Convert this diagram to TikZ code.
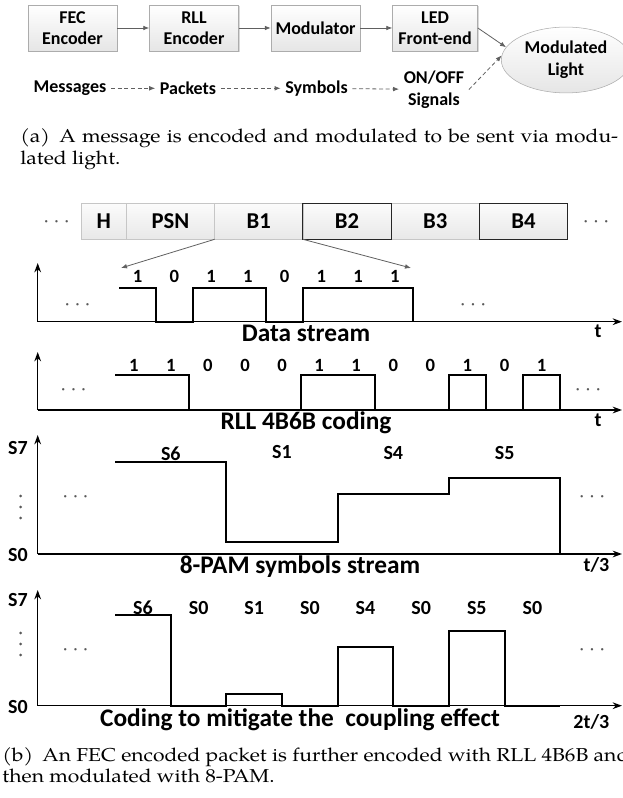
\documentclass[tikz,border=0pt]{standalone}
\usepackage{fontspec}
\setmainfont{Carlito}
\newfontfamily\capfont{TeX Gyre Pagella}[FakeStretch=1.13]
\usetikzlibrary{positioning,arrows.meta,shapes.geometric,shadows}
\tikzset{
  blk/.style={draw=gray!65, top color=white, bottom color=gray!20, align=center,
              font=\fontsize{13.5}{16}\selectfont\bfseries, minimum width=66.75pt,
              minimum height=34.5pt, inner sep=2pt,
              drop shadow={shadow xshift=1pt, shadow yshift=-1pt, fill=gray!50, opacity=0.6}},
  lbl/.style={font=\fontsize{13.5}{16.5}\selectfont\bfseries, align=center},
  flow/.style={-{Latex[length=4.5pt,width=3.5pt]}, draw=gray!75!black, line width=0.6pt},
  dflow/.style={flow, dash pattern=on 3pt off 2pt},
  pkt/.style={draw=gray!45, top color=gray!3, bottom color=gray!18, minimum height=27pt,
              minimum width=66.2pt, outer sep=0pt, inner sep=0pt,
              font=\fontsize{17}{19}\selectfont\bfseries},
  axline/.style={-{Stealth[length=7pt,width=5pt]}, line width=1.1pt},
  wave/.style={line width=1.5pt},
  bit/.style={font=\fontsize{14}{16}\selectfont\bfseries},
  lvl/.style={font=\fontsize{15}{17}\selectfont\bfseries},
  ttl/.style={font=\fontsize{19}{21}\selectfont\bfseries, anchor=base},
  tlab/.style={font=\fontsize{15}{17}\selectfont\bfseries, anchor=base},
  ellip/.style={text=gray!70!black, font=\fontsize{19}{20}\selectfont},
  vdot/.style={fill=gray!70!black},
  captxt/.style={font=\capfont\fontsize{14}{17}\selectfont, anchor=base west, inner sep=0pt},
}

\begin{document}
\begin{tikzpicture}[x=0.75pt, y=-0.75pt]
\useasboundingbox (0,0) rectangle (623,798);

% (a) transmitter chain
\node[blk] (fec) at (72.5,28) {FEC\\Encoder};
\node[blk, right=24pt of fec] (rll) {RLL\\Encoder};
\node[blk, right=24pt of rll] (mod) {Modulator};
\node[blk, right=24pt of mod, minimum width=63.75pt] (led) {LED\\Front-end};
\node[ellipse, draw=gray!65, top color=white, bottom color=gray!20, lbl,
      minimum width=84pt, minimum height=43.5pt] (light) at (566,60) {Modulated\\Light};
\draw[flow] (fec) -- (rll);
\draw[flow] (rll) -- (mod);
\draw[flow] (mod) -- (led);
\draw[flow] (led.east) -- (light.168);

\node[lbl] (msg) at (70,88.3) {Messages};
\node[lbl] (pkts) at (188,88.3) {Packets};
\node[lbl] (sym) at (316.5,88.3) {Symbols};
\node[lbl] (onoff) at (434,89.5) {ON/OFF\\Signals};
\draw[dflow] (msg) -- (pkts);
\draw[dflow] (pkts) -- (sym);
\draw[dflow] (sym) -- (onoff);
\draw[dflow] (onoff.east) -- (light.176);

\node[captxt] (capa1) at (20,143) {\makebox[448.5pt][s]{(a)\enskip A message is encoded and modulated to be sent via modu-}};
\node[captxt] (capa2) at (20,165) {lated light.};

% (b) packet
\node[ellip] (pl) at (56.6,222) {$\cdots$};
\node[pkt, minimum width=33.75pt] (h) at (103.85,221.3) {H};
\node[pkt, right=0pt of h] (psn) {PSN};
\node[pkt, right=0pt of psn] (b1) {B1};
\node[pkt, right=0pt of b1] (b2) {B2};
\node[pkt, right=0pt of b2] (b3) {B3};
\node[pkt, right=0pt of b3] (b4) {B4};
\node[ellip] (pr) at (596,222) {$\cdots$};
\draw[gray!30!black, line width=0.6pt] (b2.north west) rectangle (b2.south east);
\draw[gray!30!black, line width=0.6pt] (b4.north west) rectangle (b4.south east);
\coordinate (ptl) at (121,268);
\coordinate (ptr) at (411,268);
\draw[flow] (b1.south west) -- (ptl);
\draw[flow] (b1.south east) -- (ptr);

% data stream
\draw[axline] (37.7,321.7) -- (37.7,263);
\draw[axline] (37.7,321.7) -- (622,321.7);
\draw[wave] (119.2,287.7) -| (156,321.7) -| (192.7,287.7) -| (266.2,321.7)
  -| (303,287.7) -| (413.2,321.7);
\foreach \b [count=\i] in {1,0,1,1,0,1,1,1}
  \node[bit] (d\i) at ({119.2+36.75*(\i-0.5)},276.7) {\b};
\node[ellip] (dl) at (77.5,305.7) {$\cdots$};
\node[ellip] (dr) at (473,305.7) {$\cdots$};
\node[ttl] (dttl) at (306,341) {Data stream};
\node[tlab] (dt) at (598,337) {t};

% RLL 4B6B
\draw[axline] (37.7,410) -- (37.7,352);
\draw[axline] (37.7,410) -- (622,410);
\draw[wave] (115.2,375) -| (189.4,410) -| (300.6,375) -| (374.8,410)
  -| (448.9,375) -| (486,410) -| (523.1,375) -| (560.2,410);
\foreach \b [count=\i] in {1,1,0,0,0,1,1,0,0,1,0,1}
  \node[bit] (r\i) at ({115.2+37.08*(\i-0.5)},365) {\b};
\node[ellip] (rl) at (73.5,390.7) {$\cdots$};
\node[ellip] (rr) at (588,390.7) {$\cdots$};
\node[ttl] (rttl) at (306,429.5) {RLL 4B6B coding};
\node[tlab] (rt) at (598,426) {t};

% 8-PAM
\draw[axline] (37.7,554) -- (37.7,435);
\draw[axline] (37.7,554) -- (622,554);
\draw[wave] (115.2,462.3) -| (226.4,541.7) -| (337.7,494) -| (448.9,478.3) -| (560.2,554);
\node[lvl] (p6) at (170.8,453.3) {S6};
\node[lvl] (p1) at (282,451.7) {S1};
\node[lvl] (p4) at (393.3,453.3) {S4};
\node[lvl] (p5) at (504.6,453.3) {S5};
\node[lvl] (ps7) at (17.9,448.3) {S7};
\node[lvl] (ps0) at (17.9,555) {S0};
\foreach \yy in {496,507,518} \fill[vdot] (20.7,\yy) circle (1.1pt);
\node[ellip] (pdl) at (75.5,497.3) {$\cdots$};
\node[ellip] (pdr) at (592,497.3) {$\cdots$};
\node[ttl] (pttl) at (300,573.5) {8-PAM symbols stream};
\node[tlab, anchor=base east] (pt) at (614,571) {t/3};

% coupling
\draw[axline] (37.7,705.7) -- (37.7,590);
\draw[axline] (37.7,705.7) -- (622,705.7);
\draw[wave] (115.2,615) -| (170.8,705.7) -| (226.4,694) -| (282,705.7) -| (337.7,646.7)
  -| (393.3,705.7) -| (448.9,630.7) -| (504.6,705.7) -- (560.2,705.7);
\foreach \s [count=\i] in {S6,S0,S1,S0,S4,S0,S5,S0}
  \node[lvl] (c\i) at ({115.2+55.63*(\i-0.5)},607.7) {\s};
\node[lvl] (cs7) at (17.9,600) {S7};
\node[lvl] (cs0) at (17.9,706.7) {S0};
\foreach \yy in {633,644,655} \fill[vdot] (20.7,\yy) circle (1.1pt);
\node[ellip] (cdl) at (75.5,650) {$\cdots$};
\node[ellip] (cdr) at (592,650) {$\cdots$};
\node[ttl] (cttl) at (300,726) {Coding to mitigate the\ \ coupling effect};
\node[tlab, anchor=base east] (ct) at (614,728) {2t/3};

\node[captxt] (capb1) at (2,761) {(b)\enskip An FEC encoded packet is further encoded with RLL 4B6B and};
\node[captxt] (capb2) at (2,782) {then modulated with 8-PAM.};
\end{tikzpicture}
\end{document}
